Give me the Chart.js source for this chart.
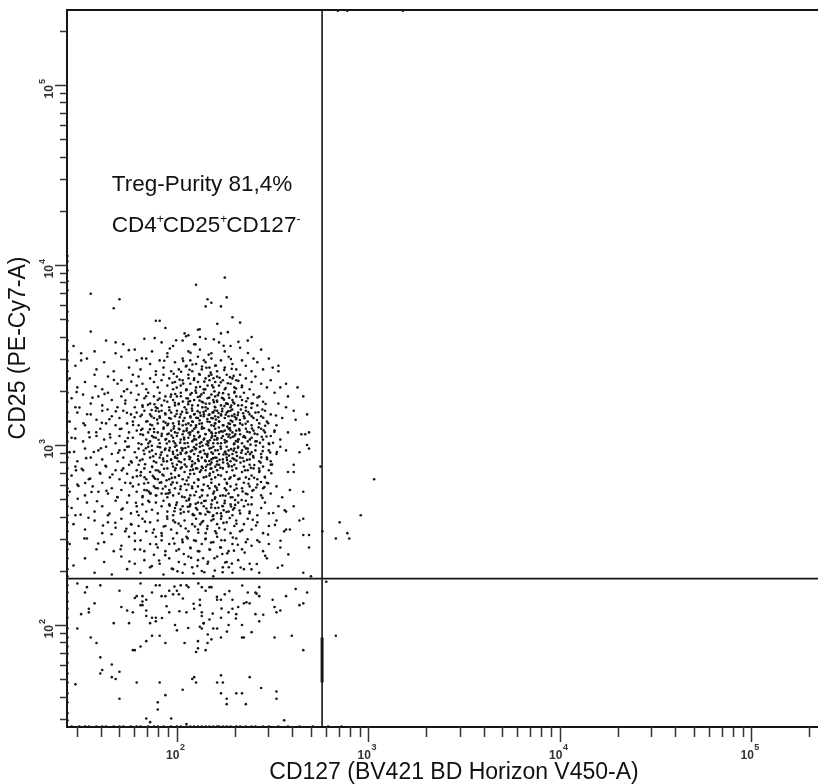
<!DOCTYPE html>
<html>
<head>
<meta charset="utf-8">
<script src="https://cdn.jsdelivr.net/npm/chart.js@4.4.1/dist/chart.umd.min.js"></script>
<style>
  html, body { margin: 0; padding: 0; background: #fff; }
  #plot { display: block; }
</style>
</head>
<body>
<canvas id="plot" width="822" height="784"></canvas>
<script>
// axis ranges in log10 units (plot is cropped on the right)
const xRangeLog = [1.426, 5.348];
const yRangeLog = [1.433, 5.417];

// quadrant gate
const gateCD127 = 573;
const gateCD25 = 181;
const gateMarkLog = [1.93, 1.68]; // heavy bit drawn on the vertical gate

const decades = [2, 3, 4, 5];
const minorSteps = [2, 3, 4, 5, 6, 7, 8, 9];

const xTitle = 'CD127 (BV421 BD Horizon V450-A)';
const yTitle = 'CD25 (PE-Cy7-A)';
const purityText = 'Treg-Purity 81,4%';
const phenotype = [['CD4', '+'], ['CD25', '+'], ['CD127', '-']];

// events, [log10 CD127, log10 CD25]
const events = [
  // upper outliers
  [2.10,3.89],[2.25,3.93],[1.55,3.84],[1.70,3.81],[1.67,3.76],[2.16,3.81],[2.18,3.79],[2.15,3.77],[2.23,3.77],[2.26,3.82],
  [2.29,3.71],[2.33,3.68],[1.89,3.69],[1.91,3.69],[1.94,3.65],[1.55,3.63],[2.11,3.64],[2.12,3.60],[2.04,3.62],[2.06,3.61],
  [2.23,3.62],[2.39,3.60],[1.68,3.57],[1.50,3.51],[1.50,3.47],[2.40,3.48],[2.50,3.43],[2.53,3.41],
  // 3.5 - 3.6
  [1.46,3.55],[1.57,3.52],[1.63,3.58],[1.68,3.51],[1.72,3.56],[1.78,3.53],[1.83,3.59],[1.87,3.52],[1.92,3.57],[1.95,3.51],
  [1.98,3.55],[2.03,3.58],[2.06,3.52],[2.09,3.56],[2.12,3.53],[2.15,3.59],[2.18,3.51],[2.22,3.57],[2.25,3.52],[2.28,3.55],
  [2.33,3.54],[2.37,3.58],[2.44,3.53],
  // 3.4 - 3.5
  [1.47,3.44],[1.53,3.48],[1.58,3.42],[1.62,3.46],[1.67,3.41],[1.71,3.49],[1.75,3.43],[1.79,3.47],[1.81,3.42],[1.84,3.48],
  [1.86,3.45],[1.89,3.41],[1.91,3.47],[1.93,3.43],[1.95,3.49],[1.97,3.41],[1.99,3.46],[2.01,3.42],[2.03,3.48],[2.05,3.44],
  [2.07,3.47],[2.08,3.41],[2.10,3.45],[2.11,3.49],[2.13,3.42],[2.15,3.46],[2.17,3.43],[2.18,3.48],[2.20,3.44],[2.21,3.41],
  [2.23,3.47],[2.25,3.43],[2.27,3.49],[2.29,3.45],[2.31,3.42],[2.34,3.47],[2.36,3.44],[2.39,3.41],[2.42,3.46],[2.45,3.42],
  [2.48,3.48],[2.53,3.44],
  // 3.3 - 3.4
  [1.44,3.37],[1.48,3.32],[1.52,3.35],[1.57,3.39],[1.61,3.31],[1.64,3.38],[1.69,3.34],[1.71,3.36],[1.74,3.31],[1.77,3.39],
  [1.79,3.33],[1.80,3.38],[1.82,3.34],[1.84,3.31],[1.86,3.37],[1.88,3.35],[1.89,3.39],[1.90,3.32],[1.92,3.36],[1.93,3.39],
  [1.95,3.33],[1.96,3.37],[1.98,3.31],[1.99,3.35],[2.00,3.38],[2.02,3.33],[2.03,3.36],[2.05,3.31],[2.06,3.39],[2.07,3.34],
  [2.09,3.37],[2.10,3.32],[2.11,3.35],[2.12,3.39],[2.14,3.31],[2.15,3.37],[2.16,3.33],[2.17,3.36],[2.18,3.39],[2.19,3.32],
  [2.20,3.35],[2.21,3.38],[2.22,3.33],[2.24,3.36],[2.25,3.31],[2.26,3.39],[2.28,3.34],[2.29,3.37],[2.30,3.32],[2.31,3.36],
  [2.33,3.39],[2.34,3.33],[2.36,3.37],[2.38,3.31],[2.39,3.35],[2.41,3.38],[2.44,3.34],[2.47,3.32],[2.49,3.36],[2.54,3.32],
  [2.57,3.34],[2.63,3.32],
  // 3.2 - 3.3
  [1.45,3.26],[1.47,3.21],[1.51,3.28],[1.55,3.23],[1.59,3.27],[1.61,3.22],[1.64,3.29],[1.66,3.25],[1.69,3.21],[1.71,3.27],
  [1.73,3.23],[1.76,3.29],[1.78,3.21],[1.79,3.25],[1.80,3.28],[1.82,3.22],[1.83,3.26],[1.85,3.29],[1.86,3.23],[1.88,3.27],
  [1.89,3.21],[1.90,3.25],[1.91,3.29],[1.92,3.22],[1.94,3.27],[1.95,3.24],[1.96,3.21],[1.97,3.28],[1.98,3.25],[1.99,3.22],
  [2.00,3.27],[2.01,3.23],[2.02,3.29],[2.04,3.21],[2.05,3.26],[2.06,3.24],[2.07,3.28],[2.08,3.22],[2.09,3.25],[2.10,3.29],
  [2.11,3.22],[2.12,3.27],[2.13,3.24],[2.14,3.29],[2.15,3.21],[2.16,3.26],[2.17,3.23],[2.18,3.28],[2.19,3.25],[2.20,3.21],
  [2.20,3.27],[2.21,3.24],[2.22,3.29],[2.23,3.22],[2.24,3.26],[2.26,3.23],[2.27,3.28],[2.28,3.21],[2.29,3.25],[2.30,3.29],
  [2.30,3.23],[2.31,3.27],[2.32,3.22],[2.34,3.25],[2.35,3.29],[2.36,3.21],[2.37,3.26],[2.39,3.23],[2.40,3.28],[2.42,3.22],
  [2.43,3.27],[2.45,3.24],[2.51,3.29],[2.53,3.23],[2.57,3.21],[2.58,3.27],[2.66,3.27],
  // 3.1 - 3.2
  [1.44,3.13],[1.48,3.18],[1.52,3.11],[1.55,3.17],[1.58,3.14],[1.61,3.19],[1.63,3.12],[1.66,3.16],[1.68,3.11],[1.70,3.15],
  [1.72,3.19],[1.74,3.12],[1.76,3.17],[1.77,3.13],[1.79,3.18],[1.80,3.11],[1.81,3.16],[1.83,3.19],[1.84,3.13],[1.86,3.17],
  [1.87,3.11],[1.88,3.15],[1.89,3.19],[1.90,3.12],[1.91,3.16],[1.92,3.19],[1.93,3.13],[1.94,3.17],[1.95,3.11],[1.96,3.15],
  [1.97,3.18],[1.98,3.12],[1.99,3.16],[2.00,3.19],[2.01,3.13],[2.02,3.17],[2.03,3.11],[2.04,3.15],[2.05,3.18],[2.06,3.12],
  [2.07,3.16],[2.08,3.19],[2.08,3.13],[2.09,3.17],[2.10,3.11],[2.11,3.15],[2.12,3.18],[2.13,3.12],[2.14,3.16],[2.15,3.19],
  [2.16,3.13],[2.17,3.17],[2.18,3.11],[2.18,3.15],[2.19,3.18],[2.20,3.12],[2.20,3.16],[2.21,3.19],[2.22,3.13],[2.23,3.17],
  [2.24,3.11],[2.25,3.15],[2.26,3.18],[2.27,3.12],[2.27,3.16],[2.28,3.19],[2.29,3.13],[2.30,3.17],[2.30,3.11],[2.31,3.15],
  [2.32,3.18],[2.33,3.12],[2.35,3.16],[2.36,3.19],[2.37,3.13],[2.38,3.17],[2.39,3.11],[2.40,3.15],[2.41,3.18],[2.43,3.12],
  [2.44,3.16],[2.46,3.19],[2.47,3.13],[2.49,3.17],[2.52,3.11],[2.55,3.15],[2.61,3.19],[2.62,3.14],[2.68,3.17],
  // 3.0 - 3.1
  [1.45,3.04],[1.47,3.09],[1.51,3.02],[1.54,3.07],[1.58,3.05],[1.60,3.09],[1.62,3.03],[1.65,3.06],[1.68,3.01],[1.70,3.05],
  [1.71,3.09],[1.73,3.02],[1.75,3.07],[1.77,3.04],[1.79,3.08],[1.80,3.01],[1.81,3.06],[1.82,3.09],[1.84,3.03],[1.85,3.07],
  [1.86,3.02],[1.87,3.05],[1.88,3.09],[1.89,3.04],[1.90,3.07],[1.91,3.01],[1.92,3.05],[1.93,3.09],[1.94,3.03],[1.95,3.06],
  [1.96,3.02],[1.97,3.08],[1.98,3.04],[1.99,3.07],[1.99,3.01],[2.00,3.05],[2.01,3.09],[2.02,3.03],[2.03,3.06],[2.04,3.01],
  [2.05,3.08],[2.06,3.04],[2.07,3.07],[2.08,3.02],[2.09,3.05],[2.09,3.09],[2.10,3.03],[2.11,3.07],[2.12,3.01],[2.12,3.05],
  [2.13,3.09],[2.14,3.03],[2.15,3.06],[2.16,3.02],[2.17,3.08],[2.18,3.04],[2.18,3.07],[2.19,3.01],[2.20,3.05],[2.20,3.09],
  [2.21,3.03],[2.22,3.07],[2.23,3.01],[2.24,3.05],[2.25,3.08],[2.26,3.02],[2.26,3.06],[2.27,3.09],[2.28,3.04],[2.29,3.07],
  [2.30,3.01],[2.30,3.05],[2.31,3.08],[2.32,3.03],[2.33,3.06],[2.34,3.01],[2.35,3.05],[2.36,3.09],[2.37,3.02],[2.38,3.07],
  [2.39,3.04],[2.40,3.08],[2.41,3.02],[2.42,3.06],[2.44,3.09],[2.45,3.03],[2.46,3.07],[2.48,3.01],[2.49,3.05],[2.51,3.08],
  [2.54,3.03],[2.58,3.07],[2.65,3.06],[2.67,3.06],[2.69,3.07],[2.68,3.00],
  // 2.9 - 3.0
  [1.44,2.96],[1.48,2.91],[1.52,2.98],[1.55,2.93],[1.59,2.97],[1.61,2.92],[1.63,2.99],[1.66,2.95],[1.69,2.91],[1.70,2.97],
  [1.72,2.93],[1.74,2.99],[1.76,2.91],[1.78,2.96],[1.79,2.93],[1.80,2.98],[1.82,2.92],[1.83,2.95],[1.85,2.99],[1.86,2.93],
  [1.87,2.97],[1.88,2.91],[1.89,2.95],[1.90,2.99],[1.91,2.93],[1.92,2.96],[1.93,2.91],[1.94,2.98],[1.95,2.94],[1.96,2.97],
  [1.97,2.92],[1.98,2.95],[1.99,2.99],[1.99,2.93],[2.00,2.97],[2.01,2.91],[2.02,2.95],[2.03,2.98],[2.04,2.92],[2.05,2.96],
  [2.06,2.99],[2.07,2.93],[2.08,2.97],[2.08,2.91],[2.09,2.95],[2.10,2.98],[2.11,2.92],[2.12,2.96],[2.12,2.99],[2.13,2.93],
  [2.14,2.97],[2.15,2.91],[2.16,2.95],[2.17,2.98],[2.18,2.92],[2.18,2.96],[2.19,2.99],[2.20,2.93],[2.20,2.97],[2.21,2.91],
  [2.22,2.95],[2.23,2.98],[2.24,2.92],[2.25,2.96],[2.26,2.99],[2.26,2.93],[2.27,2.97],[2.28,2.91],[2.29,2.95],[2.30,2.98],
  [2.30,2.92],[2.31,2.96],[2.32,2.99],[2.33,2.93],[2.34,2.97],[2.35,2.91],[2.36,2.95],[2.37,2.98],[2.38,2.92],[2.39,2.96],
  [2.40,2.93],[2.41,2.97],[2.43,2.91],[2.44,2.95],[2.45,2.99],[2.47,2.93],[2.48,2.97],[2.49,2.91],[2.52,2.95],[2.54,2.99],
  [2.57,2.97],[2.64,2.96],[2.69,2.98],
  // 2.8 - 2.9
  [1.45,2.83],[1.47,2.88],[1.51,2.86],[1.54,2.81],[1.58,2.89],[1.60,2.84],[1.63,2.88],[1.65,2.82],[1.68,2.86],[1.70,2.81],
  [1.72,2.87],[1.74,2.84],[1.75,2.89],[1.77,2.82],[1.79,2.86],[1.80,2.89],[1.81,2.83],[1.83,2.87],[1.84,2.81],[1.86,2.85],
  [1.87,2.88],[1.88,2.82],[1.89,2.86],[1.90,2.81],[1.91,2.85],[1.92,2.89],[1.93,2.83],[1.95,2.87],[1.96,2.81],[1.97,2.84],
  [1.98,2.88],[1.99,2.82],[1.99,2.86],[2.00,2.89],[2.01,2.83],[2.02,2.87],[2.03,2.81],[2.04,2.85],[2.05,2.88],[2.06,2.82],
  [2.07,2.86],[2.08,2.89],[2.09,2.84],[2.10,2.87],[2.11,2.81],[2.12,2.85],[2.13,2.88],[2.14,2.82],[2.15,2.86],[2.16,2.89],
  [2.17,2.83],[2.18,2.87],[2.18,2.81],[2.19,2.85],[2.20,2.88],[2.20,2.82],[2.21,2.86],[2.22,2.89],[2.23,2.83],[2.24,2.87],
  [2.25,2.81],[2.26,2.85],[2.27,2.88],[2.28,2.82],[2.29,2.86],[2.30,2.89],[2.30,2.83],[2.31,2.87],[2.32,2.81],[2.34,2.85],
  [2.35,2.88],[2.36,2.82],[2.37,2.86],[2.38,2.89],[2.39,2.83],[2.40,2.87],[2.42,2.81],[2.43,2.85],[2.45,2.88],[2.46,2.82],
  [2.48,2.86],[2.49,2.89],[2.58,2.85],[2.61,2.85],[2.61,2.89],[2.75,2.88],
  // 2.7 - 2.8
  [1.44,2.74],[1.48,2.78],[1.52,2.72],[1.56,2.77],[1.59,2.74],[1.61,2.79],[1.64,2.73],[1.66,2.76],[1.69,2.71],[1.71,2.75],
  [1.73,2.79],[1.75,2.72],[1.77,2.77],[1.79,2.74],[1.80,2.78],[1.82,2.71],[1.83,2.75],[1.85,2.79],[1.86,2.73],[1.88,2.77],
  [1.89,2.72],[1.90,2.76],[1.91,2.79],[1.92,2.73],[1.94,2.77],[1.95,2.71],[1.96,2.75],[1.97,2.78],[1.98,2.72],[1.99,2.76],
  [2.00,2.79],[2.01,2.73],[2.02,2.77],[2.04,2.71],[2.05,2.75],[2.06,2.78],[2.07,2.72],[2.08,2.76],[2.09,2.79],[2.10,2.74],
  [2.11,2.77],[2.12,2.71],[2.13,2.75],[2.14,2.78],[2.16,2.72],[2.17,2.76],[2.18,2.79],[2.19,2.73],[2.20,2.77],[2.20,2.71],
  [2.21,2.75],[2.22,2.78],[2.24,2.72],[2.25,2.76],[2.26,2.79],[2.27,2.73],[2.28,2.77],[2.29,2.71],[2.30,2.75],[2.31,2.78],
  [2.32,2.72],[2.34,2.76],[2.35,2.79],[2.36,2.73],[2.38,2.77],[2.39,2.71],[2.40,2.75],[2.42,2.78],[2.44,2.72],[2.45,2.76],
  [2.47,2.79],[2.49,2.73],[2.52,2.77],[2.55,2.71],[2.59,2.75],[2.66,2.74],
  // 2.6 - 2.7
  [1.45,2.65],[1.47,2.61],[1.53,2.68],[1.57,2.63],[1.61,2.66],[1.64,2.61],[1.68,2.69],[1.71,2.64],[1.74,2.68],[1.76,2.62],
  [1.79,2.66],[1.80,2.61],[1.82,2.67],[1.84,2.63],[1.85,2.69],[1.87,2.64],[1.89,2.68],[1.90,2.62],[1.92,2.66],[1.93,2.69],
  [1.95,2.63],[1.96,2.67],[1.98,2.61],[1.99,2.65],[2.00,2.68],[2.02,2.62],[2.03,2.66],[2.05,2.69],[2.06,2.63],[2.07,2.67],
  [2.09,2.61],[2.10,2.65],[2.11,2.68],[2.12,2.62],[2.14,2.66],[2.15,2.69],[2.16,2.63],[2.18,2.67],[2.19,2.61],[2.20,2.65],
  [2.21,2.68],[2.23,2.62],[2.24,2.66],[2.25,2.69],[2.27,2.63],[2.28,2.67],[2.29,2.61],[2.30,2.65],[2.32,2.68],[2.33,2.62],
  [2.35,2.66],[2.36,2.69],[2.38,2.63],[2.39,2.67],[2.42,2.61],[2.44,2.65],[2.46,2.68],[2.48,2.62],[2.53,2.66],[2.57,2.63],
  [2.61,2.66],
  // 2.5 - 2.6
  [1.46,2.56],[1.52,2.53],[1.57,2.58],[1.61,2.51],[1.64,2.57],[1.68,2.54],[1.71,2.59],[1.73,2.52],[1.76,2.56],[1.78,2.51],
  [1.80,2.55],[1.82,2.59],[1.84,2.52],[1.86,2.57],[1.88,2.53],[1.90,2.58],[1.92,2.51],[1.94,2.55],[1.95,2.59],[1.97,2.53],
  [1.99,2.57],[2.00,2.51],[2.02,2.55],[2.04,2.58],[2.06,2.52],[2.08,2.56],[2.10,2.59],[2.11,2.53],[2.13,2.57],[2.15,2.51],
  [2.16,2.55],[2.18,2.58],[2.20,2.52],[2.21,2.56],[2.23,2.59],[2.25,2.53],[2.26,2.57],[2.28,2.51],[2.30,2.55],[2.31,2.58],
  [2.33,2.52],[2.35,2.56],[2.37,2.59],[2.39,2.53],[2.42,2.57],[2.45,2.51],[2.48,2.55],[2.52,2.58],[2.56,2.52],[2.64,2.58],
  [2.66,2.59],[2.57,2.53],[2.59,2.53],[2.66,2.50],[2.69,2.50],
  // 2.4 - 2.5
  [1.44,2.45],[1.53,2.48],[1.58,2.42],[1.62,2.46],[1.67,2.41],[1.71,2.44],[1.75,2.49],[1.78,2.42],[1.81,2.47],[1.83,2.41],
  [1.86,2.45],[1.89,2.49],[1.90,2.43],[1.92,2.47],[1.94,2.41],[1.96,2.45],[1.98,2.48],[2.01,2.42],[2.03,2.46],[2.05,2.49],
  [2.07,2.43],[2.09,2.47],[2.11,2.41],[2.13,2.45],[2.15,2.48],[2.17,2.42],[2.19,2.46],[2.21,2.49],[2.23,2.43],[2.25,2.47],
  [2.27,2.41],[2.29,2.45],[2.31,2.48],[2.34,2.42],[2.36,2.46],[2.39,2.44],[2.42,2.47],[2.45,2.41],[2.48,2.45],[2.54,2.43],
  [2.69,2.43],
  // 2.26 - 2.4
  [1.46,2.33],[1.52,2.37],[1.57,2.29],[1.62,2.35],[1.66,2.28],[1.71,2.38],[1.74,2.31],[1.78,2.34],[1.81,2.29],[1.83,2.36],
  [1.86,2.32],[1.88,2.39],[1.91,2.34],[1.93,2.28],[1.96,2.37],[1.98,2.31],[2.01,2.35],[2.03,2.29],[2.06,2.38],[2.08,2.32],
  [2.11,2.36],[2.13,2.30],[2.16,2.34],[2.19,2.27],[2.21,2.38],[2.24,2.32],[2.26,2.35],[2.29,2.29],[2.32,2.36],[2.35,2.31],
  [2.38,2.34],[2.43,2.29],[2.47,2.37],[2.55,2.33],[2.66,2.29],[2.70,2.27],
  // lower part of the cloud
  [1.874,2.512],[2.036,2.394],[2.191,2.587],[2.318,2.446],[1.962,2.663],[2.107,2.327],[2.254,2.718],[2.413,2.553],[1.808,2.419],[2.149,2.476],
  [2.287,2.341],[1.931,2.547],[2.064,2.702],[2.226,2.431],[2.372,2.669],[2.003,2.298],[2.169,2.626],[2.461,2.384],[1.856,2.683],[2.122,2.559],
  [2.239,2.293],[2.341,2.527],[1.987,2.452],[2.083,2.611],[2.206,2.509],[2.503,2.622],[1.907,2.358],[2.276,2.594],[2.137,2.371],[2.389,2.309],
  [2.046,2.536],[2.173,2.418],[2.304,2.694],[1.949,2.603],[2.099,2.467],[2.263,2.398],[2.431,2.461],[1.833,2.574],[2.217,2.651],[2.019,2.642],
  [2.354,2.402],[2.158,2.534],[1.973,2.313],[2.292,2.486],[2.074,2.373],[2.198,2.303],[2.447,2.706],[1.892,2.448],[2.128,2.677],[2.243,2.567],
  [2.056,2.481],[2.327,2.636],[2.184,2.692],[1.921,2.496],[2.271,2.321],[2.009,2.563],[2.117,2.409],[2.396,2.584],[2.232,2.471],[2.087,2.286],
  [2.163,2.351],[2.298,2.413],[1.955,2.731],[2.041,2.337],[2.209,2.621],[2.476,2.502],[2.137,2.578],[1.869,2.327],[2.311,2.562],[2.252,2.347],
  [2.094,2.547],[2.178,2.458],[2.369,2.476],[1.997,2.412],[2.221,2.539],[2.067,2.659],[2.283,2.658],[2.143,2.293],[2.417,2.339],[1.939,2.388],
  [2.028,2.474],[2.196,2.371],[2.333,2.319],[2.112,2.512],[2.259,2.628],[1.981,2.581],[2.154,2.647],[2.379,2.621],[2.071,2.426],[2.237,2.394],
  [2.541,2.468],[2.582,2.392],[2.512,2.556],[2.563,2.637],[2.527,2.318],[1.781,2.467],[1.792,2.629],[1.752,2.353],[1.821,2.716],[1.763,2.558],
  // below the CD25 gate
  [2.62,2.20],[2.68,2.18],[2.57,2.16],[2.43,2.21],[2.41,2.18],[2.37,2.18],[2.43,2.16],[2.50,2.14],[2.51,2.10],[2.52,2.07],
  [2.54,2.08],[2.64,2.11],[2.66,2.12],[2.38,2.12],[2.35,2.12],[2.32,2.10],[2.29,2.14],[2.29,2.09],[2.27,2.07],[2.25,2.17],
  [2.23,2.14],[2.21,2.14],[2.17,2.21],[2.18,2.21],[2.13,2.21],[2.15,2.19],[2.12,2.14],[2.12,2.11],[2.09,2.09],[2.13,2.07],
  [2.13,2.05],[2.14,2.01],[2.17,2.03],[2.19,1.98],[2.21,1.98],[2.12,1.99],[2.13,1.98],[2.23,2.04],[2.31,2.06],[2.41,2.06],
  [2.43,2.02],[2.34,2.00],[2.27,2.00],[2.39,1.96],[2.34,1.93],[2.35,1.93],[2.23,1.93],[2.18,1.92],[2.11,1.91],[2.11,1.87],
  [2.16,1.90],[2.15,1.86],[2.10,1.85],[2.51,1.93],[2.60,1.94],[2.66,1.86],[2.09,1.71],[2.10,1.68],[2.21,1.68],[2.23,1.72],
  [2.24,1.68],[2.38,1.71],[2.44,1.65],[2.23,1.62],[2.31,1.62],[2.34,1.62],[2.26,1.59],[2.26,1.56],[2.36,1.56],[2.52,1.63],
  [2.52,1.59],[2.56,1.47],
  [1.48,2.23],[1.53,2.21],[1.52,2.18],[1.60,2.22],[1.70,2.19],[1.57,2.12],[1.54,2.09],[1.54,2.07],[1.50,2.06],[1.48,1.98],
  [1.55,1.93],[1.58,1.90],[1.60,1.82],[1.61,1.75],[1.60,1.73],[1.66,1.78],[1.70,1.74],[1.66,1.71],[1.68,1.70],[1.47,1.67],
  [1.79,1.68],[1.70,1.59],[1.67,2.01],[1.71,2.10],[1.75,2.01],[1.74,2.08],[1.77,2.07],[1.78,2.15],[1.79,2.16],[1.82,2.16],
  [1.84,2.14],[1.81,2.23],[1.82,2.13],[1.82,2.11],[1.81,2.11],[1.84,2.08],[1.84,2.05],[1.86,2.01],[1.87,2.04],[1.89,2.04],
  [1.87,2.18],[1.89,2.22],[1.91,2.22],[1.92,2.16],[1.94,2.16],[1.96,2.19],[1.98,2.17],[2.00,2.19],[2.01,2.17],[2.02,2.22],
  [2.05,2.22],[2.06,2.21],[1.96,2.07],[1.99,2.00],[2.00,1.97],[2.05,2.07],[1.87,1.94],[1.91,1.94],[1.94,1.90],[1.77,1.86],
  [1.78,1.86],[1.81,1.88],[1.84,1.91],[1.89,2.02],[2.04,1.90],[2.08,1.70],[2.03,1.64],[1.94,1.61],[1.91,1.68],[1.90,1.57],
  [1.90,1.53],[1.84,1.48],[1.86,1.46],[1.97,1.48],[2.05,1.45],
  [2.031,2.147],[2.187,2.063],[2.274,2.188],[1.946,2.104],[2.112,2.231],[2.363,2.126],[2.059,1.983],[2.233,2.091],[2.416,2.174],[1.987,2.213],
  [2.161,1.947],[2.308,2.036],[2.087,2.118],[2.451,2.057],[2.209,2.156],[1.922,2.039],[2.139,2.009],[2.341,2.219],[2.261,1.963],[2.013,2.076],
  // right of the CD127 gate
  [2.76,2.52],[2.85,2.57],[2.96,2.61],[2.83,2.48],[2.89,2.51],[2.90,2.48],[2.78,2.24],[2.83,1.94],[3.03,2.81],
  // dense core
  [2.013,3.087],[2.147,2.913],[2.231,3.164],[1.982,3.021],[2.296,2.968],[2.078,3.203],[2.184,3.049],[2.342,3.112],[2.025,2.876],[2.163,2.997],
  [2.257,3.231],[1.968,3.146],[2.112,3.072],[2.209,2.891],[2.318,3.018],[2.054,3.179],[2.137,3.236],[2.276,3.094],[1.991,2.934],[2.089,2.988],
  [2.243,2.947],[2.171,3.128],[2.332,2.902],[2.037,3.041],[2.126,2.859],[2.268,3.187],[1.957,3.063],[2.198,3.212],[2.305,3.059],[2.066,2.921],
  [2.154,3.004],[2.219,3.097],[2.287,2.881],[2.009,3.226],[2.101,3.151],[2.249,3.028],[2.346,3.176],[1.976,2.897],[2.188,2.952],[2.073,3.109],
  [2.139,3.183],[2.262,2.916],[2.028,2.969],[2.204,3.141],[2.314,2.939],[2.091,3.034],[2.176,2.868],[2.237,3.201],[1.963,2.985],[2.118,3.247],
  [2.281,3.136],[2.047,3.114],[2.157,2.942],[2.327,3.081],[1.998,3.172],[2.213,3.009],[2.084,2.863],[2.269,3.046],[2.141,3.093],[2.352,2.991],
  [2.019,2.957],[2.193,3.238],[2.301,3.157],[2.061,3.068],[2.227,2.874],[2.128,3.017],[2.284,3.219],[1.985,3.104],[2.166,3.167],[2.239,3.074],
  [2.041,2.891],[2.111,2.939],[2.322,3.032],[2.199,3.121],[2.069,3.244],[2.253,2.963],[1.972,3.052],[2.149,3.061],[2.291,2.926],[2.033,3.134],
  [2.181,2.902],[2.217,3.178],[2.097,2.976],[2.339,3.221],[2.004,2.944],[2.263,3.102],[2.133,3.209],[2.056,3.011],[2.309,3.143],[2.172,3.026],
  [2.228,2.992],[1.993,2.871],[2.117,3.118],[2.274,3.058],[2.049,3.197],[2.207,2.929],[2.152,2.879],[2.336,2.957],[2.081,3.079],[1.961,3.193],
  [2.246,3.252],[2.123,2.964],[2.298,3.004],[2.017,3.013],[2.186,3.181],[2.063,2.936],[2.233,3.039],[2.159,3.144],[2.318,3.166],[2.094,2.898],
  [2.271,2.886],[2.031,3.241],[2.203,3.066],[1.979,2.962],[2.143,3.036],[2.289,3.197],[2.071,3.153],[2.221,3.131],[2.347,3.044],[2.114,2.911],
  [2.179,2.983],[2.003,3.067],[2.258,2.949],[2.108,3.188],[2.311,2.913],[2.044,2.983],[2.196,3.029],[2.135,2.872],[2.277,3.117],[1.989,3.235],
  [2.236,3.187],[2.086,3.026],[2.161,3.201],[2.325,3.089],[2.021,2.904],[2.213,2.971],[2.052,3.092],[2.292,3.046],[2.124,3.163],[2.189,2.927],
  [1.969,2.918],[2.266,3.228],[2.102,3.002],[2.241,2.903],[2.015,3.154],[2.167,3.084],[2.334,3.197],[2.077,2.881],[2.209,3.247],[2.146,2.951],
  [2.283,2.977],[2.038,3.031],[2.194,3.106],[2.119,3.137],[2.303,3.109],[1.997,2.997],[2.251,3.014],[2.059,3.226],[2.174,2.892],[2.229,3.076],
  [2.093,3.172],[2.343,2.928],[2.011,3.116],[2.164,3.013],[2.272,2.941],[2.131,3.101],[2.216,3.154],[2.046,2.954],[2.294,3.237],[1.983,3.091],
  [2.183,3.064],[2.106,2.869],[2.255,3.168],[2.027,3.184],[2.319,2.984],[2.151,3.229],[2.068,3.057],[2.223,2.918],[2.134,2.996],[2.279,3.081],
  [2.001,2.926],[2.197,3.192],[2.083,3.129],[2.308,3.022],[2.243,3.109],[2.158,2.934],[2.035,3.077],[2.265,2.897],[2.116,3.043],[2.187,3.148],
  [1.955,3.118],[2.329,3.139],[2.072,2.964],[2.211,3.038],[2.141,3.171],[2.287,3.162],[2.024,2.983],[2.169,2.911],[2.248,3.216],[2.099,3.098],
  // core flanks
  [1.823,3.056],[1.912,2.987],[1.868,3.194],[1.941,3.123],[1.807,2.914],[1.889,2.761],[1.934,3.247],[1.851,3.009],[1.902,2.858],[1.817,3.168],
  [1.876,2.937],[1.946,2.804],[1.839,3.271],[1.921,3.062],[1.863,2.731],[1.897,3.141],[1.812,2.849],[1.928,2.924],[1.859,3.087],[1.883,3.226],
  [1.937,2.973],[1.829,2.786],[1.906,3.186],[1.871,2.877],[1.944,3.033],[1.846,3.132],[1.893,2.719],[1.815,3.004],[1.924,2.836],[1.857,2.962],
  [1.909,3.258],[1.834,2.893],[1.879,3.043],[1.948,2.909],[1.821,3.212],[1.886,2.812],[1.931,3.097],[1.843,2.748],[1.915,2.946],[1.867,3.159],
  [2.367,3.074],[2.441,2.931],[2.389,3.206],[2.502,3.012],[2.356,2.859],[2.418,3.139],[2.476,2.787],[2.371,2.962],[2.453,3.081],[2.394,2.746],
  [2.517,3.164],[2.362,3.243],[2.429,2.869],[2.487,2.958],[2.381,3.031],[2.446,3.197],[2.403,2.818],[2.359,3.118],[2.468,3.047],[2.412,2.997],
  [2.497,2.891],[2.374,2.784],[2.434,3.012],[2.391,3.159],[2.459,2.823],[2.421,3.264],[2.366,2.917],[2.509,3.073],[2.448,2.966],[2.386,2.873],
  [2.477,3.121],[2.357,3.041],[2.427,3.098],[2.398,2.939],[2.463,3.228],[2.414,2.764],[2.373,3.183],[2.493,2.843],[2.437,2.902],[2.384,3.002],
  [2.522,2.961],[2.451,3.151],[2.368,2.726],[2.406,3.063],[2.482,3.004],[2.431,2.857],[2.361,2.981],[2.457,2.766],[2.396,3.232],[2.443,3.046],
  [1.826,2.969],[1.904,3.029],[1.874,2.829],[1.939,3.176],[1.849,3.223],[1.918,2.792],[1.861,3.114],[1.892,2.903],[1.813,3.083],[1.933,2.868],
  [1.854,2.741],[1.899,3.204],[1.838,2.982],[1.926,2.757],[1.881,3.072],[1.947,3.008],[1.831,2.821],[1.911,3.151],[1.869,2.996],[1.942,2.729],
  [2.377,2.811],[2.426,3.182],[2.404,2.889],[2.471,2.921],[2.353,3.149],[2.439,2.794],[2.392,3.092],[2.461,3.107],[2.417,3.021],[2.382,2.949],
  // above and below the core
  [2.027,2.713],[2.153,2.824],[2.249,2.676],[1.978,2.792],[2.106,2.641],[2.312,2.758],[2.069,2.839],[2.198,2.701],[2.274,2.812],[1.996,2.667],
  [2.134,2.749],[2.233,2.604],[2.042,2.782],[2.179,2.653],[2.338,2.694],[2.091,2.721],[2.216,2.833],[1.964,2.736],[2.124,2.618],[2.293,2.641],
  [2.057,2.657],[2.162,2.772],[2.258,2.749],[2.011,2.829],[2.187,2.604],[2.327,2.813],[2.079,2.769],[2.207,2.762],[1.987,2.632],[2.142,2.689],
  [2.281,2.709],[2.036,2.628],[2.113,2.806],[2.244,2.637],[2.172,2.841],[2.304,2.667],[2.063,2.694],[1.973,2.817],[2.226,2.718],[2.098,2.673],
  [2.343,2.742],[2.149,2.614],[2.018,2.754],[2.262,2.784],[2.194,2.741],[2.083,2.616],[2.299,2.829],[2.131,2.719],[2.051,2.803],[2.237,2.661],
  [2.021,3.271],[2.143,3.352],[2.241,3.288],[1.983,3.396],[2.109,3.267],[2.309,3.314],[2.066,3.418],[2.196,3.298],[2.277,3.377],[1.999,3.319],
  [2.131,3.436],[2.229,3.349],[2.049,3.304],[2.176,3.402],[2.331,3.268],[2.089,3.361],[2.214,3.277],[1.967,3.268],[2.121,3.324],[2.286,3.423],
  [2.058,3.258],[2.167,3.384],[2.255,3.317],[2.014,3.363],[2.184,3.331],[2.321,3.356],[2.077,3.289],[2.203,3.441],[1.991,3.283],[2.148,3.309],
  [2.273,3.262],[2.033,3.341],[2.116,3.394],[2.247,3.416],[2.169,3.263],[2.301,3.296],[2.061,3.371],[1.977,3.346],[2.223,3.374],[2.097,3.302],
  [2.339,3.321],[2.154,3.429],[2.022,3.407],[2.266,3.343],[2.191,3.371],[2.081,3.447],[2.296,3.384],[2.128,3.281],[2.047,3.436],[2.235,3.262],
  [2.071,3.512],[2.193,3.587],[1.963,3.536],[2.282,3.478],[2.119,3.643],[2.244,3.551],[1.884,3.594],[2.033,3.467],[2.166,3.502],[2.321,3.573],
  [1.817,3.481],[2.097,3.559],[2.211,3.673],[1.934,3.468],[2.266,3.627],[2.048,3.604],[2.141,3.471],[2.371,3.511],[1.996,3.582],[1.749,3.527],
  // low CD127 shoulder
  [1.512,3.121],[1.627,2.884],[1.731,3.247],[1.463,2.962],[1.689,2.711],[1.574,3.326],[1.764,2.903],[1.538,2.596],[1.652,3.042],[1.491,3.208],
  [1.717,2.647],[1.603,2.982],[1.779,3.154],[1.547,2.813],[1.671,3.361],[1.482,2.701],[1.744,3.039],[1.589,2.453],[1.638,3.197],[1.526,2.927],
  [1.757,2.788],[1.614,2.553],[1.702,3.089],[1.469,3.037],[1.663,2.836],[1.559,3.263],[1.786,2.679],[1.503,2.868],[1.724,3.298],[1.648,2.619],
  [1.579,3.071],[1.736,2.534],[1.476,3.294],[1.693,2.957],[1.622,3.284],[1.554,2.739],[1.771,3.111],[1.517,2.481],[1.681,3.187],[1.597,2.846],
  [1.749,2.991],[1.486,2.772],[1.659,2.504],[1.531,3.171],[1.712,2.859],[1.608,3.123],[1.791,2.826],[1.566,2.961],[1.678,2.568],[1.497,2.613],
  [1.739,3.179],[1.632,2.746],[1.544,3.043],[1.706,2.421],[1.583,2.687],[1.762,3.352],[1.473,2.859],[1.647,3.143],[1.521,2.789],[1.727,2.972]
];

// events piled on the axis floors and ceiling
const floorCD127 = [4.05,4.02,3.97,3.91,3.86,3.74,3.69,3.58,3.52,3.47,3.41,3.36,3.29,3.24,3.18,3.13,3.07,3.02,2.96,2.93,
  2.87,2.81,2.76,2.72,2.66,2.61,2.57,2.52,2.46,2.42,2.37,2.31,2.27,2.22,2.18,2.13,2.09,2.04,1.98,1.93,1.88,1.84,1.79,
  1.73,1.68,1.62,1.57,1.51,1.47];
const floorCD25 = [1.45,1.49,1.52,1.54,1.58,1.61,1.63,1.67,1.70,1.72,1.76,1.79,1.81,1.85,1.88,1.90,1.93,1.97,2.00,2.02,
  2.05,2.07,2.09,2.11,2.13,2.15,2.17,2.19,2.21,2.22,2.24,2.26,2.28,2.31,2.33,2.36,2.39,2.41,2.45,2.48,2.53,2.58,2.64,
  2.71,2.79,2.86];
const ceilingCD25 = [2.84, 2.89, 3.18];

const xMin = 10 ** xRangeLog[0], xMax = 10 ** xRangeLog[1];
const yMin = 10 ** yRangeLog[0], yMax = 10 ** yRangeLog[1];

const points = events.map(e => ({ x: 10 ** e[0], y: 10 ** e[1] }));
floorCD127.forEach(v => points.push({ x: xMin * 1.005, y: 10 ** v }));
floorCD25.forEach(v => points.push({ x: 10 ** v, y: yMin * 1.005 }));
ceilingCD25.forEach(v => points.push({ x: 10 ** v, y: yMax * 0.99 }));

const ink = '#161616';
const font = "'Liberation Sans', Arial, sans-serif";

// axes, log ticks, labels and text drawn with the chart's scales
const decor = {
  id: 'decor',
  afterDraw(chart) {
    const { ctx, chartArea: a, scales: { x, y } } = chart;
    ctx.save();
    ctx.strokeStyle = ink;
    ctx.lineWidth = 2;
    ctx.beginPath();
    ctx.moveTo(a.right, a.top);
    ctx.lineTo(a.left, a.top);
    ctx.lineTo(a.left, a.bottom);
    ctx.lineTo(a.right, a.bottom);
    ctx.stroke();

    ctx.lineWidth = 1.5;
    ctx.strokeStyle = '#333';
    for (let d = 1; d <= 5; d++) {
      [1].concat(minorSteps).forEach(m => {
        const v = m * 10 ** d;
        const major = m === 1;
        if (v >= xMin && v <= xMax) {
          const px = Math.round(x.getPixelForValue(v)) + 0.5;
          ctx.beginPath();
          ctx.moveTo(px, a.bottom);
          ctx.lineTo(px, a.bottom + (major ? 15 : 10));
          ctx.stroke();
        }
        if (v >= yMin && v <= yMax) {
          const py = Math.round(y.getPixelForValue(v)) + 0.5;
          ctx.beginPath();
          ctx.moveTo(a.left, py);
          ctx.lineTo(a.left - (major ? 12 : 7), py);
          ctx.stroke();
        }
      });
    }

    ctx.fillStyle = '#333';
    ctx.textBaseline = 'alphabetic';
    decades.forEach(d => {
      const px = x.getPixelForValue(10 ** d);
      ctx.font = 'bold 12px ' + font;
      ctx.textAlign = 'right';
      ctx.fillText('10', px + 2.5, a.bottom + 32);
      ctx.font = 'bold 9px ' + font;
      ctx.textAlign = 'left';
      ctx.fillText(String(d), px + 3, a.bottom + 23);

      const py = y.getPixelForValue(10 ** d);
      ctx.save();
      ctx.translate(a.left - 14, py);
      ctx.rotate(-Math.PI / 2);
      ctx.font = 'bold 12px ' + font;
      ctx.textAlign = 'right';
      ctx.fillText('10', 0, 0);
      ctx.font = 'bold 9px ' + font;
      ctx.textAlign = 'left';
      ctx.fillText(String(d), 1, -8);
      ctx.restore();
    });

    ctx.fillStyle = '#111';
    ctx.font = '23px ' + font;
    ctx.textAlign = 'center';
    ctx.fillText(xTitle, 454, a.bottom + 52);
    ctx.save();
    ctx.translate(25, 348);
    ctx.rotate(-Math.PI / 2);
    ctx.fillText(yTitle, 0, 0);
    ctx.restore();

    // gate annotation, anchored in data space
    const tx = x.getPixelForValue(10 ** 1.66);
    const ty = y.getPixelForValue(10 ** 4.41);
    ctx.textAlign = 'left';
    ctx.font = '22.5px ' + font;
    ctx.fillText(purityText, tx, ty);
    let cx = tx;
    const ty2 = ty + 41;
    phenotype.forEach(([name, sign]) => {
      ctx.font = '22.5px ' + font;
      ctx.fillText(name, cx, ty2);
      cx += ctx.measureText(name).width;
      ctx.font = '12px ' + font;
      ctx.fillText(sign, cx, ty2 - 9);
      cx += ctx.measureText(sign).width - 1;
    });
    ctx.restore();
  }
};

new Chart(document.getElementById('plot'), {
  type: 'scatter',
  data: {
    datasets: [
      {
        data: points,
        pointRadius: 1.3,
        pointBackgroundColor: ink,
        pointBorderWidth: 0,
        clip: false
      },
      {
        data: [{ x: gateCD127, y: yMin }, { x: gateCD127, y: yMax }],
        showLine: true, borderColor: ink, borderWidth: 1.6, pointRadius: 0
      },
      {
        data: [{ x: xMin, y: gateCD25 }, { x: xMax, y: gateCD25 }],
        showLine: true, borderColor: ink, borderWidth: 1.6, pointRadius: 0
      },
      {
        data: [{ x: gateCD127, y: 10 ** gateMarkLog[0] }, { x: gateCD127, y: 10 ** gateMarkLog[1] }],
        showLine: true, borderColor: ink, borderWidth: 3, pointRadius: 0
      }
    ]
  },
  options: {
    responsive: false,
    animation: false,
    devicePixelRatio: 1,
    layout: { padding: { top: 10, left: 0, right: 0, bottom: 0 } },
    plugins: { legend: { display: false }, tooltip: { enabled: false } },
    scales: {
      x: {
        type: 'logarithmic', position: 'bottom', bounds: 'data',
        min: xMin, max: xMax,
        ticks: { display: false }, grid: { display: false }, border: { display: false },
        afterFit: s => { s.height = 57; }
      },
      y: {
        type: 'logarithmic', position: 'left', bounds: 'data',
        min: yMin, max: yMax,
        ticks: { display: false }, grid: { display: false }, border: { display: false },
        afterFit: s => { s.width = 67; }
      }
    }
  },
  plugins: [decor]
});
</script>
</body>
</html>
